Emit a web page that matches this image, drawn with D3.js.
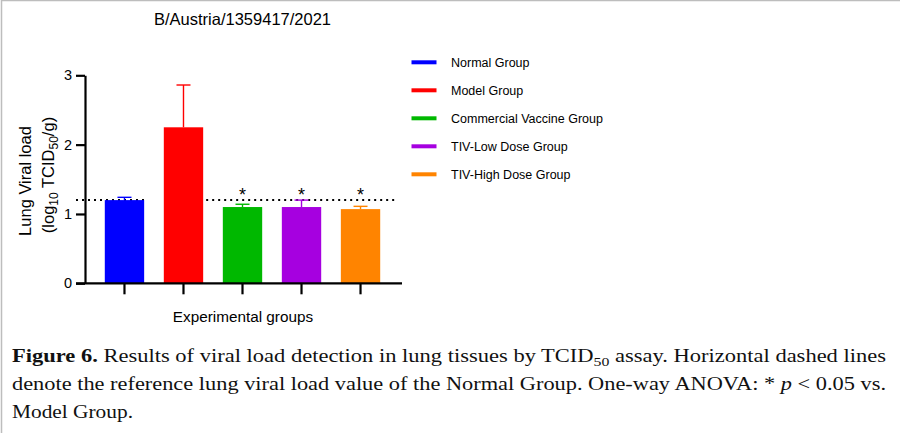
<!DOCTYPE html>
<html>
<head>
<meta charset="utf-8">
<script src="https://cdn.jsdelivr.net/npm/d3@7"></script>
<style>
  body { margin: 0; background: #fff; }
  svg { display: block; }
</style>
</head>
<body>
<svg id="chart" width="900" height="433"></svg>
<script>
// data
var groups = ["Normal Group", "Model Group", "Commercial Vaccine Group", "TIV-Low Dose Group", "TIV-High Dose Group"];
var means  = [1.20, 2.25, 1.10, 1.10, 1.07];
var errTop = [1.24, 2.86, 1.14, 1.20, 1.11];
var signif = [false, false, true, true, true];
var colors = ["#0000ff", "#ff0000", "#00b800", "#a600e0", "#ff8400"];
var yTicks = [0, 1, 2, 3];
var refValue = 1.20; // normal group reference line

var title = "B/Austria/1359417/2021";
var captionLines = [
  [["Figure 6.", "bold"], [" Results of viral load detection in lung tissues by TCID", ""], ["50", "sub"], [" assay. Horizontal dashed lines", ""]],
  [["denote the reference lung viral load value of the Normal Group. One-way ANOVA: * ", ""], ["p", "italic"], [" < 0.05 vs.", ""]],
  [["Model Group.", ""]]
];

var svg = d3.select("#chart");
var sans = "'Liberation Sans', Arial, sans-serif";

// frame border (left + top) like the cropped page
svg.append("path").attr("d", "M1.5,433V0.5H900").attr("fill", "none").attr("stroke", "#bdbdbd").attr("stroke-width", 1.5);

// scales
var x = d3.scaleBand().domain(groups).range([95, 390]).paddingInner(0.333).paddingOuter(0.166);
var y = d3.scaleLinear().domain([0, 3]).range([283.3, 75.3]);
var bw = x.bandwidth();

// title
svg.append("text").attr("x", 242.5).attr("y", 24.5).attr("text-anchor", "middle")
  .style("font-family", sans).style("font-size", "16.5px").text(title);

// reference dotted line, broken around the model bar
var refY = y(refValue);
var segs = [[76, x(groups[0]) + bw], [x(groups[1]) + bw + 3, x(groups[4]) + bw + 17]];
svg.selectAll(".ref").data(segs).enter().append("line")
  .attr("x1", d => d[0]).attr("x2", d => d[1]).attr("y1", refY).attr("y2", refY)
  .attr("stroke", "#000").attr("stroke-width", 2).attr("stroke-dasharray", "2,4");

// bars
var rows = groups.map((g, i) => ({ g: g, m: means[i], e: errTop[i], s: signif[i], c: colors[i] }));

svg.selectAll(".bar").data(rows).enter().append("rect")
  .attr("x", d => x(d.g)).attr("width", bw)
  .attr("y", d => y(d.m)).attr("height", d => y(0) - y(d.m))
  .attr("fill", d => d.c);

// error bars (upper only)
var eb = svg.selectAll(".err").data(rows).enter().append("g").attr("stroke", d => d.c).attr("stroke-width", 1.4);
eb.append("line").attr("x1", d => x(d.g) + bw / 2).attr("x2", d => x(d.g) + bw / 2)
  .attr("y1", d => y(d.m)).attr("y2", d => y(d.e));
eb.append("line").attr("x1", d => x(d.g) + bw / 2 - 7).attr("x2", d => x(d.g) + bw / 2 + 7)
  .attr("y1", d => y(d.e)).attr("y2", d => y(d.e));

// significance stars
svg.selectAll(".star").data(rows.filter(d => d.s)).enter().append("text")
  .attr("x", d => x(d.g) + bw / 2).attr("y", refY + 1).attr("text-anchor", "middle")
  .style("font-family", sans).style("font-size", "18px").text("*");

// y axis
var yAxis = svg.append("g").attr("transform", "translate(85,0)")
  .call(d3.axisLeft(y).tickValues(yTicks).tickFormat(d3.format("d")).tickSize(9).tickSizeOuter(0).tickPadding(4))
  .attr("font-size", 14.5).attr("font-family", sans);
yAxis.select(".domain").attr("stroke-width", 2.2);
yAxis.selectAll(".tick line").attr("stroke-width", 2.2);
yAxis.selectAll("text").attr("fill", "#000");

// x axis
var xAxis = svg.append("g").attr("transform", "translate(0," + y(0) + ")")
  .call(d3.axisBottom(x).tickSize(11).tickSizeOuter(0).tickFormat(""));
xAxis.select(".domain").remove();
xAxis.selectAll(".tick line").attr("stroke-width", 2.2);
svg.append("line").attr("x1", 76).attr("x2", 402).attr("y1", y(0)).attr("y2", y(0))
  .attr("stroke", "#000").attr("stroke-width", 2.2);

// axis titles
svg.append("text").attr("x", 243).attr("y", 321.5).attr("text-anchor", "middle")
  .style("font-family", sans).style("font-size", "15.3px").text("Experimental groups");

svg.append("text").attr("transform", "translate(31,181) rotate(-90)").attr("text-anchor", "middle")
  .style("font-family", sans).style("font-size", "16.5px").text("Lung Viral load");
var yl2 = svg.append("text").attr("transform", "translate(54,175) rotate(-90)").attr("text-anchor", "middle")
  .style("font-family", sans).style("font-size", "16.5px");
yl2.append("tspan").text("(log");
yl2.append("tspan").attr("dy", 4).style("font-size", "12px").text("10");
yl2.append("tspan").attr("dy", -4).text(" TCID");
yl2.append("tspan").attr("dy", 4).style("font-size", "12px").text("50");
yl2.append("tspan").attr("dy", -4).text("/g)");

// legend
var lg = svg.selectAll(".leg").data(rows).enter().append("g")
  .attr("transform", (d, i) => "translate(411.5," + (62.3 + i * 28) + ")");
lg.append("rect").attr("x", 0).attr("y", -2).attr("width", 25).attr("height", 4).attr("fill", d => d.c);
lg.append("text").attr("x", 39.5).attr("y", 4.5)
  .style("font-family", sans).style("font-size", "12.5px").text(d => d.g);

// caption
var capWidths = [874, 874, 121];
captionLines.forEach(function (line, i) {
  var t = svg.append("text").attr("x", 12).attr("y", 362.3 + i * 27.7)
    .style("font-family", "'Liberation Serif', 'Times New Roman', serif").style("font-size", "18.5px").attr("fill", "#111");
  var prevSub = false;
  line.forEach(function (p) {
    var ts = t.append("tspan").text(p[0]);
    if (p[1] === "bold") ts.style("font-weight", "bold");
    if (p[1] === "italic") ts.style("font-style", "italic");
    if (p[1] === "sub") ts.attr("dy", 4).style("font-size", "13px");
    else if (prevSub) ts.attr("dy", -4);
    prevSub = p[1] === "sub";
  });
  t.attr("textLength", capWidths[i]).attr("lengthAdjust", "spacingAndGlyphs");
});
</script>
</body>
</html>
